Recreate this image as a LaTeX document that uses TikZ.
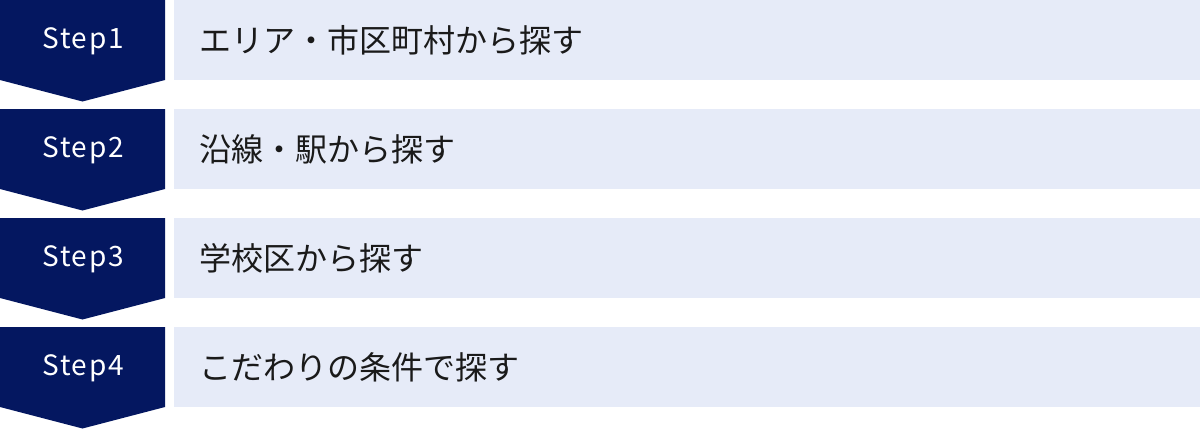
\documentclass[tikz,border=0pt]{standalone}
\usepackage{fontspec}
\newfontfamily\jpfont{Noto Sans CJK JP}
\newfontfamily\stepfont[LetterSpace=6]{Noto Sans CJK JP}
\definecolor{navy}{HTML}{041760}
\definecolor{pale}{HTML}{E6EBF8}
\definecolor{ink}{HTML}{1A1A1A}
\tikzset{
  stepbadge/.style={fill=navy, draw=none},
  rowbox/.style={fill=pale, draw=none},
  steplabel/.style={text=white, font=\stepfont\fontsize{28}{30}\selectfont, inner sep=0pt},
  rowlabel/.style={text=ink, font=\jpfont\fontsize{32}{34}\selectfont, inner sep=0pt, anchor=west},
}
\begin{document}
\begin{tikzpicture}[x=1pt,y=-1pt]
\useasboundingbox (0,0) rectangle (1200,429);
\foreach \i/\txt in {0/エリア・市区町村から探す,1/沿線・駅から探す,2/学校区から探す,3/こだわりの条件で探す}{
  \pgfmathsetmacro{\t}{\i*109}
  \fill[stepbadge] (0,\t) -- (165,\t) -- (165,\t+80) -- (82.5,\t+101.5) -- (0,\t+80) -- cycle;
  \fill[rowbox] (174,\t) rectangle (1200,\t+80);
  \pgfmathtruncatemacro{\n}{\i+1}
  \node[steplabel] (s\n) at (83,\t+41) {Step\n};
  \node[rowlabel] (r\n) at (199,\t+40) {\txt};
}
\end{tikzpicture}
\end{document}
